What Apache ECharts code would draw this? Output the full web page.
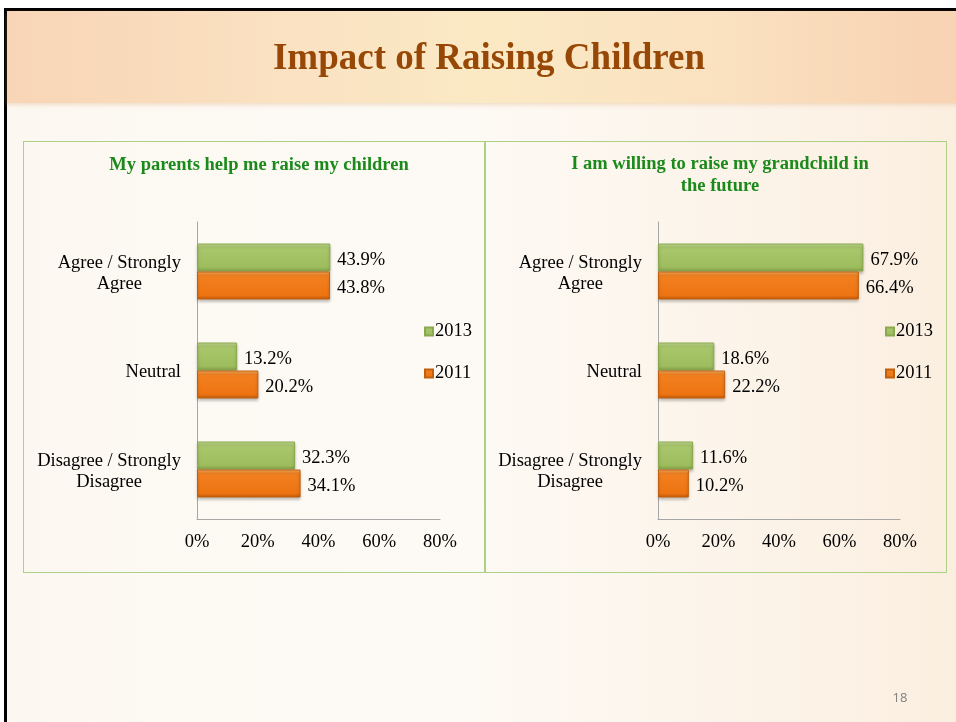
<!DOCTYPE html>
<html>
<head>
<meta charset="utf-8">
<title>Impact of Raising Children</title>
<script src="https://cdn.jsdelivr.net/npm/echarts@6/dist/echarts.min.js"></script>
<style>
  html, body { margin: 0; padding: 0; background: #fff; }
  body { width: 956px; height: 722px; position: relative; overflow: hidden; }
  .slide {
    position: absolute; left: 4px; top: 8px; width: 960px; height: 720px;
    border-left: 3px solid #000; border-top: 3px solid #000;
    background: linear-gradient(to right, #fcf8f1 0%, #fdfaf5 45%, #fcf2e6 85%, #fbeedf 100%);
  }
  .header {
    position: absolute; left: 0; top: 0; width: 100%; height: 92px;
    background: linear-gradient(to right, #f8d5b6 0%, #fae2c2 30%, #fbe9c4 50%, #fae1c0 75%, #f8d4b4 95%);
    box-shadow: 0 2px 4px rgba(220, 170, 120, 0.35);
  }
  .panel { position: absolute; top: 141px; height: 430px; border: 1.5px solid #aecf86; }
  #main { position: absolute; left: 0; top: 0; width: 956px; height: 722px; }
</style>
</head>
<body>
<div class="slide"><div class="header"></div></div>
<div class="panel" style="left:23px; width:461px;"></div>
<div class="panel" style="left:484px; width:461px;"></div>
<div id="main"></div>
<script>
// chart values
var categories = ['Agree / Strongly\nAgree', 'Neutral', 'Disagree / Strongly\nDisagree'];
var years = ['2013', '2011'];
var parents2013 = [43.9, 13.2, 32.3];
var parents2011 = [43.8, 20.2, 34.1];
var grandchild2013 = [67.9, 18.6, 11.6];
var grandchild2011 = [66.4, 22.2, 10.2];
var axisMin = 0, axisMax = 80, axisStep = 20;

var serif = '"Liberation Serif", "Times New Roman", serif';
var fs = 18.5;

var green = new echarts.graphic.LinearGradient(0, 0, 0, 1, [
  {offset: 0, color: '#c6df96'},
  {offset: 0.15, color: '#a9c76c'},
  {offset: 0.85, color: '#9dbd5d'},
  {offset: 1, color: '#7f9b45'}
]);
var orange = new echarts.graphic.LinearGradient(0, 0, 0, 1, [
  {offset: 0, color: '#fbb064'},
  {offset: 0.15, color: '#f28020'},
  {offset: 0.85, color: '#ee7411'},
  {offset: 1, color: '#c0590a'}
]);

function catLabel(v) {
  return v.split('\n').map(function (s) { return '{c|' + s + '}'; }).join('\n');
}

function barSeries(name, data, color, border, idx) {
  return {
    name: name, type: 'bar', data: data,
    xAxisIndex: idx, yAxisIndex: idx,
    barWidth: 28, barGap: '0%',
    itemStyle: {
      color: color, borderColor: border, borderWidth: 1,
      shadowColor: 'rgba(0,0,0,0.25)', shadowBlur: 3, shadowOffsetY: 2
    },
    label: {
      show: true, position: 'right', distance: 7, offset: [0, 3],
      fontFamily: serif, fontSize: fs, color: '#000',
      formatter: function (p) { return p.value.toFixed(1) + '%'; }
    }
  };
}

function xAxis(idx) {
  return {
    gridIndex: idx, type: 'value', min: axisMin, max: axisMax, interval: axisStep,
    axisLine: {show: true, lineStyle: {color: '#a6a6a6', width: 1}},
    axisTick: {show: false}, splitLine: {show: false},
    axisLabel: {formatter: '{value}%', margin: 14, fontFamily: serif, fontSize: fs, color: '#000'}
  };
}

function yAxis(idx) {
  return {
    gridIndex: idx, type: 'category', data: categories, inverse: true,
    axisLine: {show: true, lineStyle: {color: '#a6a6a6', width: 1}},
    axisTick: {show: false},
    axisLabel: {
      margin: 16, fontFamily: serif, fontSize: fs, color: '#000', lineHeight: 21,
      padding: [4, 0, 0, 0],
      formatter: catLabel,
      rich: {c: {align: 'center', fontFamily: serif, fontSize: fs, color: '#000', lineHeight: 21}}
    }
  };
}

function legend(x) {
  return {
    data: years, orient: 'vertical', left: x, top: 322, padding: 0,
    itemWidth: 8, itemHeight: 8, itemGap: 23, icon: 'rect', selectedMode: false,
    textStyle: {fontFamily: serif, fontSize: fs, color: '#000', padding: [0, 0, 0, -3]}
  };
}

var chart = echarts.init(document.getElementById('main'));
chart.setOption({
  backgroundColor: 'transparent',
  animation: false,
  title: [
    {text: 'Impact of Raising Children', left: 484, top: 36, textAlign: 'center',
     textStyle: {fontFamily: serif, fontSize: 37, fontWeight: 'bold', color: '#974806'}},
    {text: 'My parents help me raise my children', left: 254, top: 151, textAlign: 'center',
     textStyle: {fontFamily: serif, fontSize: fs, fontWeight: 'bold', color: '#1b8a1b'}},
    {text: 'I am willing to raise my grandchild in\nthe future', left: 715, top: 148, textAlign: 'center',
     textStyle: {fontFamily: serif, fontSize: fs, fontWeight: 'bold', color: '#1b8a1b', lineHeight: 22}},
    {text: '18', left: 895, top: 687, textAlign: 'center',
     textStyle: {fontFamily: '"Open Sans", sans-serif', fontSize: 13, fontWeight: 'normal', color: '#808080'}}
  ],
  legend: [legend(424), legend(885)],
  grid: [
    {left: 197, top: 222, width: 243, height: 297},
    {left: 658, top: 222, width: 242, height: 297}
  ],
  xAxis: [xAxis(0), xAxis(1)],
  yAxis: [yAxis(0), yAxis(1)],
  series: [
    barSeries(years[0], parents2013, green, '#8aa84f', 0),
    barSeries(years[1], parents2011, orange, '#c0600f', 0),
    barSeries(years[0], grandchild2013, green, '#8aa84f', 1),
    barSeries(years[1], grandchild2011, orange, '#c0600f', 1)
  ]
});
</script>
</body>
</html>
